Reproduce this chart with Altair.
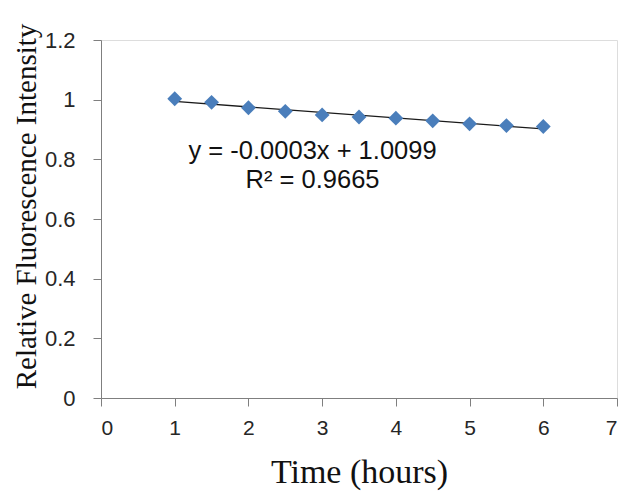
import altair as alt
import pandas as pd

time_h = [1, 1.5, 2, 2.5, 3, 3.5, 4, 4.5, 5, 5.5, 6]
intensity = [1.003, 0.991, 0.973, 0.961, 0.949, 0.942, 0.938, 0.929, 0.919, 0.913, 0.910]

eq_lines = ["y = -0.0003x + 1.0099", "R² = 0.9665"]
eq_x = [2.87, 2.87]
eq_y = [0.828, 0.731]

df = pd.DataFrame({"t": time_h, "v": intensity})
eq = pd.DataFrame({"label": eq_lines, "x": eq_x, "y": eq_y})

xs = alt.Scale(domain=[0, 7], nice=False, zero=False)
ys = alt.Scale(domain=[0, 1.2], nice=False)

axis_common = dict(
    domainColor="#7f7f7f", tickColor="#7f7f7f", tickSize=8, grid=False,
    labelFont="Liberation Sans", labelColor="#262626",
    titleFont="Liberation Serif", titleFontWeight="normal",
    titleColor="#111111",
)

x_axis = alt.Axis(values=[0, 1, 2, 3, 4, 5, 6, 7], format="d", labelPadding=11, labelFontSize=21,
                  title="Time (hours)", titleFontSize=34, titleY=84, titleBaseline="alphabetic",
                  **axis_common)
y_axis = alt.Axis(values=[0, 0.2, 0.4, 0.6, 0.8, 1.0, 1.2], labelPadding=18, labelFontSize=22,
                  labelExpr="datum.value == 1 ? '1' : datum.value == 0 ? '0' : format(datum.value, '.1f')",
                  title="Relative Fluorescence Intensity", titleFontSize=29, titleX=-66, titleY=166,
                  titleBaseline="alphabetic", titleAlign="center", **axis_common)

pts = alt.Chart(df).mark_point(shape="diamond", filled=True, size=220, color="#4a7ebb", opacity=1).encode(
    x=alt.X("t:Q", scale=xs, axis=x_axis),
    y=alt.Y("v:Q", scale=ys, axis=y_axis),
)

trend = alt.Chart(df).transform_regression("t", "v", extent=[1, 6]).mark_line(
    color="#1a1a1a", strokeWidth=1.3
).encode(x=alt.X("t:Q", scale=xs), y=alt.Y("v:Q", scale=ys))

txt = alt.Chart(eq).mark_text(font="Liberation Sans", fontSize=25.5, color="#111111",
                              align="center", baseline="middle").encode(
    x=alt.X("x:Q", scale=xs), y=alt.Y("y:Q", scale=ys), text="label:N"
)

chart = alt.layer(trend, pts, txt).properties(
    width=516, height=358,
    autosize=alt.AutoSizeParams(type="none"),
    padding={"left": 93, "top": 32, "right": 5, "bottom": 94},
).configure_view(stroke="#7f7f7f", strokeWidth=1).configure(background="white")

chart.save("out.html", embed_options={"renderer": "svg", "actions": False})
